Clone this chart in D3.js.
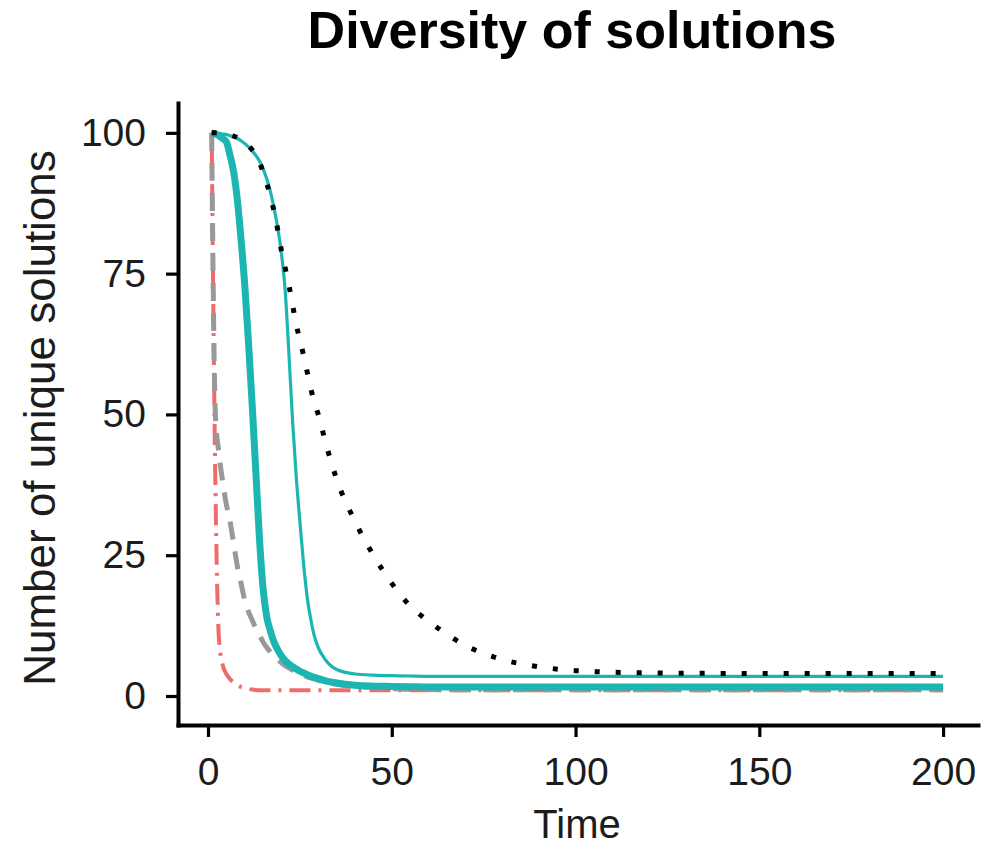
<!DOCTYPE html>
<html>
<head>
<meta charset="utf-8">
<script src="https://cdn.jsdelivr.net/npm/d3@7"></script>
<style>
  body { margin: 0; background: #fff; }
  svg text { font-family: "Liberation Sans", Arial, Helvetica, sans-serif; }
</style>
</head>
<body>
<script>
// time steps shared by all series
const times = [1, 2, 3, 4, 5, 6, 7, 8, 9, 10, 11, 12, 13, 14, 15, 16, 17, 18, 19, 20,
  21, 22, 23, 24, 25, 26, 27, 28, 29, 30, 32, 35, 40, 45, 50, 55, 60, 70, 80, 90, 100, 120, 150, 200];

const redDotdash = [100, 38, 10, 5.5, 3.9, 3, 2.4, 1.9, 1.6, 1.4, 1.25, 1.15, 1.08, 1.03, 1, 1, 1, 1, 1, 1,
  1, 1, 1, 1, 1, 1, 1, 1, 1, 1, 1, 1, 1, 1, 1, 1, 1, 1, 1, 1, 1, 1, 1, 1];
const grayDashed = [100, 50, 43, 38, 34, 31, 27, 23, 20, 17, 15, 13.5, 12, 10.8, 9.6, 8.6, 7.8, 7, 6.4, 5.9,
  5.4, 5, 4.6, 4.3, 4, 3.7, 3.4, 3.2, 3, 2.8, 2.5, 2.1, 1.7, 1.5, 1.3, 1.2, 1.15, 1.1, 1.1, 1.1, 1.1, 1.1, 1.1, 1.1];
const tealThick = [100, 99.8, 99.5, 99, 98.4, 96, 93, 88, 81, 73, 63, 52, 40, 28, 19, 14, 11.5, 9.5, 8.2, 7.1,
  6.3, 5.7, 5.2, 4.8, 4.4, 4.1, 3.8, 3.5, 3.3, 3.1, 2.7, 2.3, 1.9, 1.75, 1.7, 1.65, 1.6, 1.6, 1.6, 1.6, 1.6, 1.6, 1.6, 1.6];
const tealThin = [100, 100, 99.9, 99.8, 99.7, 99.5, 99.3, 99, 98.6, 98.1, 97.5, 96.8, 96, 95, 93.6, 91.8, 89.5, 86.5, 83, 78.5,
  72, 61, 49, 39, 31, 23.5, 17.5, 13.5, 10.5, 8.6, 6.4, 4.7, 3.9, 3.7, 3.6, 3.55, 3.5, 3.5, 3.5, 3.5, 3.5, 3.5, 3.5, 3.5];
const blackDotted = [100, 100, 100, 99.9, 99.8, 99.6, 99.4, 99.2, 98.8, 98.3, 97.7, 97, 96, 94.8, 93, 91, 88.7, 86, 82.7, 79,
  76, 73, 69.5, 66, 63.2, 60.5, 57.5, 54.5, 52, 50, 45, 38.5, 31, 25, 20, 16, 13.3, 9, 6.5, 5.2, 4.5, 4.1, 4, 4];

const xTicks = [0, 50, 100, 150, 200];
const yTicks = [0, 25, 50, 75, 100];

const series = [
  {name: 'red', values: redDotdash, color: '#ee6d6b', width: 4, dash: '3 8 21 8'},
  {name: 'gray', values: grayDashed, color: '#999999', width: 5, dash: '18 12'},
  {name: 'tealThick', values: tealThick, color: '#1cb6b2', width: 7, dash: null},
  {name: 'tealThin', values: tealThin, color: '#1cb6b2', width: 3.2, dash: null},
  {name: 'black', values: blackDotted, color: '#000000', width: 5, dash: '5 16'}
];

const W = 999, H = 848;
const svg = d3.select('body').append('svg')
  .attr('width', W)
  .attr('height', H);

// panel 178..978 x 103..725
const x = d3.scaleLinear().domain([-8.16, 209.5]).range([178, 978]);
const y = d3.scaleLinear().domain([-5.15, 105.3]).range([725, 103]);

const line = d3.line()
  .x(function(d) { return x(d[0]); })
  .y(function(d) { return y(d[1]); })
  .curve(d3.curveMonotoneX);

series.forEach(function(s) {
  const pts = times.map(function(t, i) { return [t, s.values[i]]; });
  svg.append('path')
    .attr('class', 'line ' + s.name)
    .datum(pts)
    .attr('d', line)
    .attr('fill', 'none')
    .attr('stroke', s.color)
    .attr('stroke-width', s.width)
    .attr('stroke-dasharray', s.dash)
    .attr('stroke-linejoin', 'round');
});

const xAxis = d3.axisBottom(x).tickValues(xTicks).tickSize(12).tickSizeOuter(0).tickPadding(20);
const yAxis = d3.axisLeft(y).tickValues(yTicks).tickSize(12).tickSizeOuter(0).tickPadding(20);

const gx = svg.append('g')
  .attr('class', 'x axis')
  .attr('transform', 'translate(0,725)')
  .call(xAxis);
const gy = svg.append('g')
  .attr('class', 'y axis')
  .attr('transform', 'translate(178,0)')
  .call(yAxis);

[gx, gy].forEach(function(g) {
  g.select('.domain').attr('stroke', '#000').attr('stroke-width', 4).attr('stroke-linecap', 'square');
  g.selectAll('.tick line').attr('stroke', '#000').attr('stroke-width', 3.2);
  g.selectAll('.tick text').attr('fill', '#1c1c1c').style('font-size', '39px');
});

svg.append('text')
  .attr('x', 572)
  .attr('y', 48)
  .attr('text-anchor', 'middle')
  .style('font-size', '52px')
  .style('font-weight', 'bold')
  .text('Diversity of solutions');

svg.append('text')
  .attr('x', 577)
  .attr('y', 838)
  .attr('text-anchor', 'middle')
  .attr('fill', '#1c1c1c')
  .style('font-size', '40px')
  .text('Time');

svg.append('text')
  .attr('transform', 'translate(55,418) rotate(-90)')
  .attr('text-anchor', 'middle')
  .attr('fill', '#1c1c1c')
  .style('font-size', '44px')
  .text('Number of unique solutions');
</script>
</body>
</html>
